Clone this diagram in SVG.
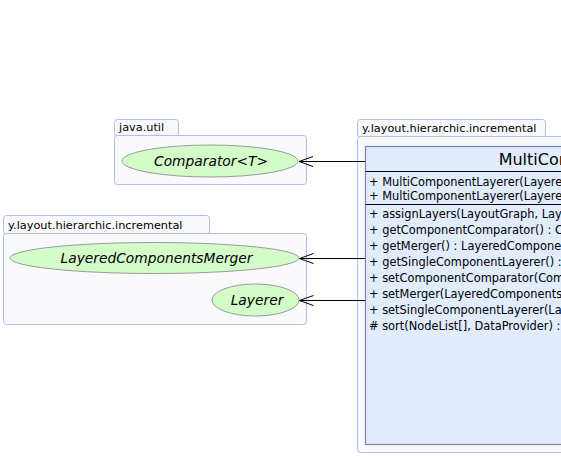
<svg xmlns="http://www.w3.org/2000/svg" width="561" height="456" viewBox="0 0 561 456">
<style>
.pkg{fill:#f9f9fb;stroke:#b3bcf0;stroke-width:1}
.tab{fill:#f9f9fb;stroke:#b3bcf0;stroke-width:1}
.plabel{font-family:"DejaVu Sans",sans-serif;font-size:11.3px;fill:#000}
.ell{fill:#d4fcc9;stroke:#9a9a9a;stroke-width:1}
.elabel{font-family:"DejaVu Sans",sans-serif;font-size:13.8px;font-style:italic;fill:#000;text-anchor:middle}
.cls{fill:#e1ecff;stroke:#7f80b4;stroke-width:1.2}
.sep{stroke:#000;stroke-width:1}
.title{font-family:"DejaVu Sans",sans-serif;font-size:16px;fill:#000;text-anchor:middle}
.mem{font-family:"DejaVu Sans",sans-serif;font-size:11.4px;fill:#000}
.edge{stroke:#000;stroke-width:1;fill:none;marker-end:url(#open)}
</style>
<defs>
<marker id="open" viewBox="-15 -6 16 12" refX="0" refY="0" markerWidth="16" markerHeight="12" markerUnits="userSpaceOnUse" orient="auto">
<path d="M-14,-5 L0,0 L-14,5" fill="none" stroke="#000" stroke-width="1"/>
</marker>
</defs>
<rect width="561" height="456" fill="#fff"/>

<g id="pkg-java-util">
<rect class="tab" x="114.5" y="119.5" width="64" height="17" rx="3"/>
<rect class="pkg" x="114.5" y="135.5" width="192" height="49" rx="3"/>
<text class="plabel" x="119" y="131">java.util</text>
</g>

<g id="pkg-incremental-left">
<rect class="tab" x="3.5" y="215.5" width="206" height="19" rx="3"/>
<rect class="pkg" x="3.5" y="233.5" width="303" height="91" rx="3"/>
<text class="plabel" x="8" y="229">y.layout.hierarchic.incremental</text>
</g>

<g id="pkg-incremental-right">
<rect class="tab" x="357.5" y="119.5" width="188" height="18" rx="3"/>
<rect class="pkg" x="357.5" y="136.5" width="480" height="316" rx="3"/>
<text class="plabel" x="362" y="132">y.layout.hierarchic.incremental</text>
</g>

<g id="Comparator">
<ellipse class="ell" cx="210" cy="161" rx="88" ry="16"/>
<text class="elabel" x="211" y="166">Comparator&lt;T&gt;</text>
</g>

<g id="LayeredComponentsMerger">
<ellipse class="ell" cx="154.5" cy="258" rx="144.5" ry="15.5"/>
<text class="elabel" x="156.5" y="263">LayeredComponentsMerger</text>
</g>

<g id="Layerer">
<ellipse class="ell" cx="255.5" cy="300" rx="43.5" ry="16"/>
<text class="elabel" x="257" y="305">Layerer</text>
</g>

<g id="MultiComponentLayerer">
<rect class="cls" x="365.5" y="146.5" width="460" height="298"/>
<line class="sep" x1="365.5" y1="171.5" x2="825.5" y2="171.5"/>
<line class="sep" x1="365.5" y1="204.5" x2="825.5" y2="204.5"/>
<text class="title" x="595" y="165">MultiComponentLayerer</text>
<text class="mem" x="369" y="186">+  MultiComponentLayerer(Layerer)</text>
<text class="mem" x="369" y="200">+  MultiComponentLayerer(Layerer, LayeredComponentsMerger, Comparator)</text>
<text class="mem" x="369" y="217.5">+  assignLayers(LayoutGraph, Layers, LayoutDataProvider) : void</text>
<text class="mem" x="369" y="233.5">+  getComponentComparator() : Comparator</text>
<text class="mem" x="369" y="249.5">+  getMerger() : LayeredComponentsMerger</text>
<text class="mem" x="369" y="265.5">+  getSingleComponentLayerer() : Layerer</text>
<text class="mem" x="369" y="281.5">+  setComponentComparator(Comparator) : void</text>
<text class="mem" x="369" y="297.5">+  setMerger(LayeredComponentsMerger) : void</text>
<text class="mem" x="369" y="313.5">+  setSingleComponentLayerer(Layerer) : void</text>
<text class="mem" x="369" y="329.5">#  sort(NodeList[], DataProvider) : void</text>
</g>

<g id="connectors">
<line class="edge" x1="365" y1="161.5" x2="299" y2="161.5"/>
<line class="edge" x1="365" y1="258.5" x2="299.5" y2="258.5"/>
<line class="edge" x1="365" y1="300.5" x2="299.5" y2="300.5"/>
</g>
</svg>
